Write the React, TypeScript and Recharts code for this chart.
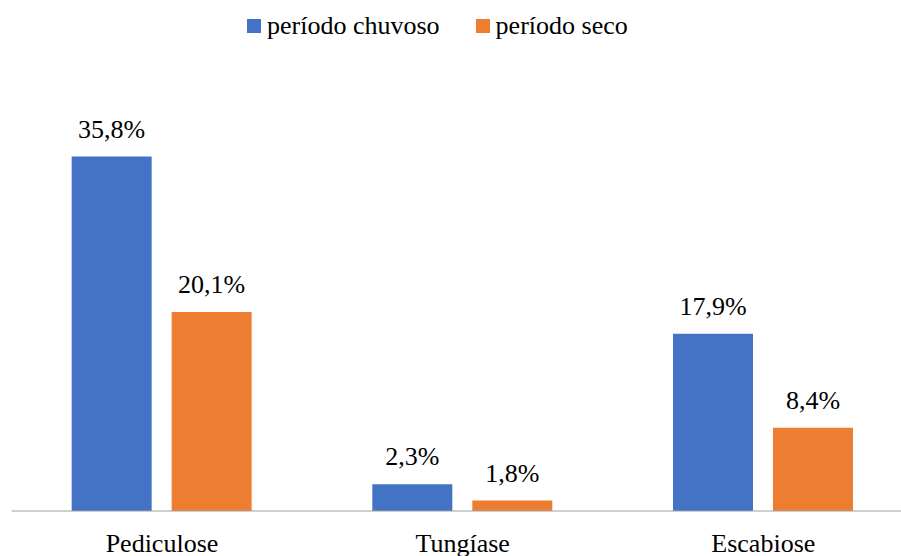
import { BarChart, Bar, XAxis, YAxis, Legend, LabelList } from 'recharts'

const categorias = ['Pediculose', 'Tungíase', 'Escabiose']
// bar heights as drawn in the picture
const chuvoso = [35.8, 2.7, 17.9]
const seco = [20.1, 1.05, 8.4]
// label texts as printed above the bars
const chuvosoTxt = ['35,8%', '2,3%', '17,9%']
const secoTxt = ['20,1%', '1,8%', '8,4%']

const AZUL = '#4472C4'
const LARANJA = '#ED7D31'
const FONTE = 'Liberation Serif'

const data = categorias.map((c, i) => ({
  nome: c,
  chuvoso: chuvoso[i],
  seco: seco[i],
  chuvosoTxt: chuvosoTxt[i],
  secoTxt: secoTxt[i],
}))

const legendItems = [
  { label: 'período chuvoso', color: AZUL },
  { label: 'período seco', color: LARANJA },
]

function renderLegend() {
  return (
    <div style={{ display: 'flex', alignItems: 'center', fontFamily: FONTE, fontSize: 26, color: '#000', whiteSpace: 'nowrap' }}>
      {legendItems.map((it, i) => (
        <div key={it.label} style={{ display: 'flex', alignItems: 'center', marginRight: i === 0 ? 36 : 0 }}>
          <span style={{ display: 'inline-block', width: 14, height: 14, background: it.color, marginRight: 6 }} />
          <span>{it.label}</span>
        </div>
      ))}
    </div>
  )
}

const labelStyle = { fontFamily: FONTE, fontSize: 26, fill: '#000' }

export default function App() {
  return (
    <div style={{ position: 'absolute', left: 0, top: 0, width: 901, height: 556, overflow: 'hidden', background: '#fff', fontFamily: FONTE }}>
      <BarChart
        width={920}
        height={556}
        data={data}
        barSize={80}
        barGap={20}
        margin={{ top: 115, right: 6.35, left: 11.65, bottom: 0 }}
        style={{ fontFamily: FONTE }}
      >
        <XAxis
          dataKey="nome"
          height={45}
          tickLine={false}
          tickSize={0}
          tickMargin={22.5}
          axisLine={{ stroke: '#a0a0a0', strokeWidth: 1 }}
          tick={{ fontFamily: FONTE, fontSize: 26, fill: '#000' }}
          interval={0}
        />
        <YAxis hide domain={[0, 40]} />
        <Legend
          layout="horizontal"
          verticalAlign="middle"
          align="center"
          content={renderLegend}
          wrapperStyle={{ top: 11, left: 247 }}
        />
        <Bar dataKey="chuvoso" name="período chuvoso" fill={AZUL} isAnimationActive={false}>
          <LabelList dataKey="chuvosoTxt" position="top" offset={19} fontFamily={FONTE} fontSize={26} fill="#000" style={labelStyle} />
        </Bar>
        <Bar dataKey="seco" name="período seco" fill={LARANJA} isAnimationActive={false}>
          <LabelList dataKey="secoTxt" position="top" offset={19} fontFamily={FONTE} fontSize={26} fill="#000" style={labelStyle} />
        </Bar>
      </BarChart>
    </div>
  )
}
